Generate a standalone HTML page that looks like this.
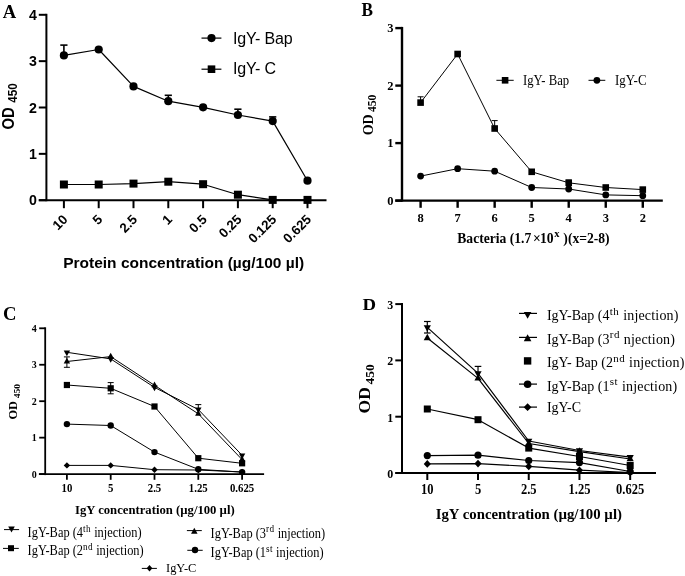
<!DOCTYPE html>
<html><head><meta charset="utf-8"><style>
html,body{margin:0;padding:0;background:#fff;}
body{width:685px;height:576px;overflow:hidden;font-family:"Liberation Sans", sans-serif;}
svg{display:block;filter:grayscale(1);}
</style></head><body>
<svg width="685" height="576" viewBox="0 0 685 576">
<rect width="685" height="576" fill="#fff"/>
<text transform="translate(2.80,17.70) scale(1,0.99)" font-family='"Liberation Serif", serif' font-size="18.6" font-weight="bold" text-anchor="start" >A</text>
<line x1="46.40" y1="13.80" x2="46.40" y2="201.20" stroke="#000" stroke-width="2"/>
<line x1="38.80" y1="200.20" x2="46.40" y2="200.20" stroke="#000" stroke-width="2"/>
<text transform="translate(36.90,205.40) scale(1,1.03)" font-family='"Liberation Sans", sans-serif' font-size="14.2" font-weight="bold" text-anchor="end" >0</text>
<line x1="38.80" y1="153.85" x2="46.40" y2="153.85" stroke="#000" stroke-width="2"/>
<text transform="translate(36.90,159.05) scale(1,1.03)" font-family='"Liberation Sans", sans-serif' font-size="14.2" font-weight="bold" text-anchor="end" >1</text>
<line x1="38.80" y1="107.50" x2="46.40" y2="107.50" stroke="#000" stroke-width="2"/>
<text transform="translate(36.90,112.70) scale(1,1.03)" font-family='"Liberation Sans", sans-serif' font-size="14.2" font-weight="bold" text-anchor="end" >2</text>
<line x1="38.80" y1="61.15" x2="46.40" y2="61.15" stroke="#000" stroke-width="2"/>
<text transform="translate(36.90,66.35) scale(1,1.03)" font-family='"Liberation Sans", sans-serif' font-size="14.2" font-weight="bold" text-anchor="end" >3</text>
<line x1="38.80" y1="14.80" x2="46.40" y2="14.80" stroke="#000" stroke-width="2"/>
<text transform="translate(36.90,20.00) scale(1,1.03)" font-family='"Liberation Sans", sans-serif' font-size="14.2" font-weight="bold" text-anchor="end" >4</text>
<line x1="38.80" y1="200.20" x2="326.50" y2="200.20" stroke="#000" stroke-width="2"/>
<line x1="63.90" y1="200.20" x2="63.90" y2="208.20" stroke="#000" stroke-width="2"/>
<text x="0.00" y="0.00" font-family='"Liberation Sans", sans-serif' font-size="13.3" font-weight="bold" text-anchor="end" transform="translate(68.50,220.30) rotate(-45)">10</text>
<line x1="98.70" y1="200.20" x2="98.70" y2="208.20" stroke="#000" stroke-width="2"/>
<text x="0.00" y="0.00" font-family='"Liberation Sans", sans-serif' font-size="13.3" font-weight="bold" text-anchor="end" transform="translate(103.30,220.30) rotate(-45)">5</text>
<line x1="133.50" y1="200.20" x2="133.50" y2="208.20" stroke="#000" stroke-width="2"/>
<text x="0.00" y="0.00" font-family='"Liberation Sans", sans-serif' font-size="13.3" font-weight="bold" text-anchor="end" transform="translate(138.10,220.30) rotate(-45)">2.5</text>
<line x1="168.30" y1="200.20" x2="168.30" y2="208.20" stroke="#000" stroke-width="2"/>
<text x="0.00" y="0.00" font-family='"Liberation Sans", sans-serif' font-size="13.3" font-weight="bold" text-anchor="end" transform="translate(172.90,220.30) rotate(-45)">1</text>
<line x1="203.10" y1="200.20" x2="203.10" y2="208.20" stroke="#000" stroke-width="2"/>
<text x="0.00" y="0.00" font-family='"Liberation Sans", sans-serif' font-size="13.3" font-weight="bold" text-anchor="end" transform="translate(207.70,220.30) rotate(-45)">0.5</text>
<line x1="237.90" y1="200.20" x2="237.90" y2="208.20" stroke="#000" stroke-width="2"/>
<text x="0.00" y="0.00" font-family='"Liberation Sans", sans-serif' font-size="13.3" font-weight="bold" text-anchor="end" transform="translate(242.50,220.30) rotate(-45)">0.25</text>
<line x1="272.70" y1="200.20" x2="272.70" y2="208.20" stroke="#000" stroke-width="2"/>
<text x="0.00" y="0.00" font-family='"Liberation Sans", sans-serif' font-size="13.3" font-weight="bold" text-anchor="end" transform="translate(277.30,220.30) rotate(-45)">0.125</text>
<line x1="307.50" y1="200.20" x2="307.50" y2="208.20" stroke="#000" stroke-width="2"/>
<text x="0.00" y="0.00" font-family='"Liberation Sans", sans-serif' font-size="13.3" font-weight="bold" text-anchor="end" transform="translate(312.10,220.30) rotate(-45)">0.625</text>
<text x="63.20" y="267.70" font-family='"Liberation Sans", sans-serif' font-size="15.5" font-weight="bold" text-anchor="start" >Protein concentration (µg/100 µl)</text>
<text transform="translate(13.5,129.6) rotate(-90) scale(0.93,1)" font-family='"Liberation Sans", sans-serif' font-weight="bold" font-size="16">OD<tspan font-size="12.6" dx="5.0" dy="3.6">450</tspan></text>
<line x1="63.90" y1="55.40" x2="63.90" y2="45.10" stroke="#000" stroke-width="1.6"/>
<line x1="60.30" y1="45.10" x2="67.50" y2="45.10" stroke="#000" stroke-width="1.6"/>
<line x1="168.30" y1="101.20" x2="168.30" y2="95.30" stroke="#000" stroke-width="1.6"/>
<line x1="164.70" y1="95.30" x2="171.90" y2="95.30" stroke="#000" stroke-width="1.6"/>
<line x1="237.90" y1="115.00" x2="237.90" y2="109.20" stroke="#000" stroke-width="1.6"/>
<line x1="234.30" y1="109.20" x2="241.50" y2="109.20" stroke="#000" stroke-width="1.6"/>
<line x1="272.70" y1="121.10" x2="272.70" y2="116.90" stroke="#000" stroke-width="1.6"/>
<line x1="269.10" y1="116.90" x2="276.30" y2="116.90" stroke="#000" stroke-width="1.6"/>
<polyline fill="none" stroke="#000" stroke-width="1.2" stroke-linejoin="round" points="63.90,55.40 98.70,49.50 133.50,86.40 168.30,101.20 203.10,107.30 237.90,115.00 272.70,121.10 307.50,180.70"/>
<polyline fill="none" stroke="#000" stroke-width="1.2" stroke-linejoin="round" points="63.90,184.50 98.70,184.50 133.50,183.60 168.30,181.70 203.10,184.20 237.90,194.70 272.70,199.90 307.50,199.90"/>
<circle cx="63.90" cy="55.40" r="4.10"/>
<circle cx="98.70" cy="49.50" r="4.10"/>
<circle cx="133.50" cy="86.40" r="4.10"/>
<circle cx="168.30" cy="101.20" r="4.10"/>
<circle cx="203.10" cy="107.30" r="4.10"/>
<circle cx="237.90" cy="115.00" r="4.10"/>
<circle cx="272.70" cy="121.10" r="4.10"/>
<circle cx="307.50" cy="180.70" r="4.10"/>
<rect x="59.90" y="180.50" width="8.00" height="8.00"/>
<rect x="94.70" y="180.50" width="8.00" height="8.00"/>
<rect x="129.50" y="179.60" width="8.00" height="8.00"/>
<rect x="164.30" y="177.70" width="8.00" height="8.00"/>
<rect x="199.10" y="180.20" width="8.00" height="8.00"/>
<rect x="233.90" y="190.70" width="8.00" height="8.00"/>
<rect x="268.70" y="195.90" width="8.00" height="8.00"/>
<rect x="303.50" y="195.90" width="8.00" height="8.00"/>
<line x1="201.50" y1="38.10" x2="221.40" y2="38.10" stroke="#000" stroke-width="1.2"/>
<circle cx="211.50" cy="38.10" r="4.10"/>
<text x="233.00" y="43.60" font-family='"Liberation Sans", sans-serif' font-size="16" font-weight="normal" text-anchor="start" letter-spacing="-0.15">IgY- Bap</text>
<line x1="201.50" y1="69.20" x2="221.40" y2="69.20" stroke="#000" stroke-width="1.2"/>
<rect x="207.70" y="65.40" width="7.60" height="7.60"/>
<text x="233.00" y="73.90" font-family='"Liberation Sans", sans-serif' font-size="16" font-weight="normal" text-anchor="start" letter-spacing="-0.15">IgY- C</text>
<text transform="translate(361.40,15.80) scale(1,1.07)" font-family='"Liberation Serif", serif' font-size="17.2" font-weight="bold" text-anchor="start" >B</text>
<line x1="402.00" y1="26.90" x2="402.00" y2="201.60" stroke="#000" stroke-width="2.4"/>
<line x1="395.30" y1="200.60" x2="402.00" y2="200.60" stroke="#000" stroke-width="2.4"/>
<text x="393.60" y="204.80" font-family='"Liberation Serif", serif' font-size="12.5" font-weight="bold" text-anchor="end" >0</text>
<line x1="395.30" y1="143.10" x2="402.00" y2="143.10" stroke="#000" stroke-width="2.4"/>
<text x="393.60" y="147.30" font-family='"Liberation Serif", serif' font-size="12.5" font-weight="bold" text-anchor="end" >1</text>
<line x1="395.30" y1="85.60" x2="402.00" y2="85.60" stroke="#000" stroke-width="2.4"/>
<text x="393.60" y="89.80" font-family='"Liberation Serif", serif' font-size="12.5" font-weight="bold" text-anchor="end" >2</text>
<line x1="395.30" y1="28.10" x2="402.00" y2="28.10" stroke="#000" stroke-width="2.4"/>
<text x="393.60" y="32.30" font-family='"Liberation Serif", serif' font-size="12.5" font-weight="bold" text-anchor="end" >3</text>
<line x1="395.30" y1="200.60" x2="662.80" y2="200.60" stroke="#000" stroke-width="2.4"/>
<line x1="420.60" y1="200.60" x2="420.60" y2="207.80" stroke="#000" stroke-width="2.4"/>
<text x="420.60" y="221.80" font-family='"Liberation Serif", serif' font-size="12.5" font-weight="bold" text-anchor="middle" >8</text>
<line x1="457.63" y1="200.60" x2="457.63" y2="207.80" stroke="#000" stroke-width="2.4"/>
<text x="457.63" y="221.80" font-family='"Liberation Serif", serif' font-size="12.5" font-weight="bold" text-anchor="middle" >7</text>
<line x1="494.66" y1="200.60" x2="494.66" y2="207.80" stroke="#000" stroke-width="2.4"/>
<text x="494.66" y="221.80" font-family='"Liberation Serif", serif' font-size="12.5" font-weight="bold" text-anchor="middle" >6</text>
<line x1="531.69" y1="200.60" x2="531.69" y2="207.80" stroke="#000" stroke-width="2.4"/>
<text x="531.69" y="221.80" font-family='"Liberation Serif", serif' font-size="12.5" font-weight="bold" text-anchor="middle" >5</text>
<line x1="568.72" y1="200.60" x2="568.72" y2="207.80" stroke="#000" stroke-width="2.4"/>
<text x="568.72" y="221.80" font-family='"Liberation Serif", serif' font-size="12.5" font-weight="bold" text-anchor="middle" >4</text>
<line x1="605.75" y1="200.60" x2="605.75" y2="207.80" stroke="#000" stroke-width="2.4"/>
<text x="605.75" y="221.80" font-family='"Liberation Serif", serif' font-size="12.5" font-weight="bold" text-anchor="middle" >3</text>
<line x1="642.78" y1="200.60" x2="642.78" y2="207.80" stroke="#000" stroke-width="2.4"/>
<text x="642.78" y="221.80" font-family='"Liberation Serif", serif' font-size="12.5" font-weight="bold" text-anchor="middle" >2</text>
<text x="457.3" y="242.8" font-family='"Liberation Serif", serif' font-weight="bold" font-size="13.6">Bacteria (1.7<tspan dx="1.6">×</tspan><tspan dx="-0.6">10</tspan><tspan font-size="10.5" dx="0.5" dy="-5.8">x</tspan><tspan dy="5.8" dx="0.6"> )(x=2-8)</tspan></text>
<text transform="translate(373.4,135.3) rotate(-90) scale(1.0,1)" font-family='"Liberation Serif", serif' font-weight="bold" font-size="14">OD<tspan font-size="11.7" dx="2.2" dy="2.6">450</tspan></text>
<line x1="420.60" y1="102.60" x2="420.60" y2="96.80" stroke="#000" stroke-width="1"/>
<line x1="417.60" y1="96.80" x2="423.60" y2="96.80" stroke="#000" stroke-width="1"/>
<line x1="494.66" y1="128.50" x2="494.66" y2="120.60" stroke="#000" stroke-width="1"/>
<line x1="491.66" y1="120.60" x2="497.66" y2="120.60" stroke="#000" stroke-width="1"/>
<line x1="568.72" y1="182.80" x2="568.72" y2="180.00" stroke="#000" stroke-width="1"/>
<line x1="565.72" y1="180.00" x2="571.72" y2="180.00" stroke="#000" stroke-width="1"/>
<polyline fill="none" stroke="#000" stroke-width="1" stroke-linejoin="round" points="420.60,102.60 457.63,54.00 494.66,128.50 531.69,171.80 568.72,182.80 605.75,187.50 642.78,189.60"/>
<polyline fill="none" stroke="#000" stroke-width="1" stroke-linejoin="round" points="420.60,176.10 457.63,168.70 494.66,171.20 531.69,187.50 568.72,189.00 605.75,194.90 642.78,195.70"/>
<rect x="417.30" y="99.30" width="6.60" height="6.60"/>
<rect x="454.33" y="50.70" width="6.60" height="6.60"/>
<rect x="491.36" y="125.20" width="6.60" height="6.60"/>
<rect x="528.39" y="168.50" width="6.60" height="6.60"/>
<rect x="565.42" y="179.50" width="6.60" height="6.60"/>
<rect x="602.45" y="184.20" width="6.60" height="6.60"/>
<rect x="639.48" y="186.30" width="6.60" height="6.60"/>
<circle cx="420.60" cy="176.10" r="3.40"/>
<circle cx="457.63" cy="168.70" r="3.40"/>
<circle cx="494.66" cy="171.20" r="3.40"/>
<circle cx="531.69" cy="187.50" r="3.40"/>
<circle cx="568.72" cy="189.00" r="3.40"/>
<circle cx="605.75" cy="194.90" r="3.40"/>
<circle cx="642.78" cy="195.70" r="3.40"/>
<line x1="496.40" y1="80.30" x2="513.70" y2="80.30" stroke="#000" stroke-width="1"/>
<rect x="501.80" y="77.00" width="6.60" height="6.60"/>
<text transform="translate(523.00,84.50) scale(1,1.15)" font-family='"Liberation Serif", serif' font-size="12.7" font-weight="normal" text-anchor="start" >IgY- Bap</text>
<line x1="588.50" y1="80.30" x2="605.30" y2="80.30" stroke="#000" stroke-width="1"/>
<circle cx="596.90" cy="80.30" r="3.40"/>
<text transform="translate(615.00,84.50) scale(1,1.15)" font-family='"Liberation Serif", serif' font-size="12.9" font-weight="normal" text-anchor="start" >IgY-C</text>
<text transform="translate(3.00,320.10) scale(1,0.99)" font-family='"Liberation Serif", serif' font-size="18.7" font-weight="bold" text-anchor="start" >C</text>
<line x1="45.20" y1="327.30" x2="45.20" y2="475.10" stroke="#000" stroke-width="1.8"/>
<line x1="39.20" y1="474.10" x2="45.20" y2="474.10" stroke="#000" stroke-width="1.8"/>
<text x="36.80" y="477.70" font-family='"Liberation Serif", serif' font-size="10" font-weight="bold" text-anchor="end" >0</text>
<line x1="39.20" y1="437.65" x2="45.20" y2="437.65" stroke="#000" stroke-width="1.8"/>
<text x="36.80" y="441.25" font-family='"Liberation Serif", serif' font-size="10" font-weight="bold" text-anchor="end" >1</text>
<line x1="39.20" y1="401.20" x2="45.20" y2="401.20" stroke="#000" stroke-width="1.8"/>
<text x="36.80" y="404.80" font-family='"Liberation Serif", serif' font-size="10" font-weight="bold" text-anchor="end" >2</text>
<line x1="39.20" y1="364.75" x2="45.20" y2="364.75" stroke="#000" stroke-width="1.8"/>
<text x="36.80" y="368.35" font-family='"Liberation Serif", serif' font-size="10" font-weight="bold" text-anchor="end" >3</text>
<line x1="39.20" y1="328.30" x2="45.20" y2="328.30" stroke="#000" stroke-width="1.8"/>
<text x="36.80" y="331.90" font-family='"Liberation Serif", serif' font-size="10" font-weight="bold" text-anchor="end" >4</text>
<line x1="38.90" y1="474.10" x2="264.10" y2="474.10" stroke="#000" stroke-width="1.8"/>
<line x1="66.90" y1="474.10" x2="66.90" y2="479.80" stroke="#000" stroke-width="1.8"/>
<text transform="translate(66.90,491.90) scale(1,1.18)" font-family='"Liberation Serif", serif' font-size="10.8" font-weight="bold" text-anchor="middle" >10</text>
<line x1="110.70" y1="474.10" x2="110.70" y2="479.80" stroke="#000" stroke-width="1.8"/>
<text transform="translate(110.70,491.90) scale(1,1.18)" font-family='"Liberation Serif", serif' font-size="10.8" font-weight="bold" text-anchor="middle" >5</text>
<line x1="154.50" y1="474.10" x2="154.50" y2="479.80" stroke="#000" stroke-width="1.8"/>
<text transform="translate(154.50,491.90) scale(1,1.18)" font-family='"Liberation Serif", serif' font-size="10.8" font-weight="bold" text-anchor="middle" >2.5</text>
<line x1="198.30" y1="474.10" x2="198.30" y2="479.80" stroke="#000" stroke-width="1.8"/>
<text transform="translate(198.30,491.90) scale(1,1.18)" font-family='"Liberation Serif", serif' font-size="10.8" font-weight="bold" text-anchor="middle" >1.25</text>
<line x1="242.10" y1="474.10" x2="242.10" y2="479.80" stroke="#000" stroke-width="1.8"/>
<text transform="translate(242.10,491.90) scale(1,1.18)" font-family='"Liberation Serif", serif' font-size="10.8" font-weight="bold" text-anchor="middle" >0.625</text>
<text x="75.00" y="513.50" font-family='"Liberation Serif", serif' font-size="12.7" font-weight="bold" text-anchor="start" >IgY concentration (µg/100 µl)</text>
<text transform="translate(17.3,419.6) rotate(-90) scale(1.08,1)" font-family='"Liberation Serif", serif' font-weight="bold" font-size="11.5">OD<tspan font-size="8.8" dx="2.6" dy="2.5">450</tspan></text>
<line x1="66.90" y1="361.50" x2="66.90" y2="356.90" stroke="#000" stroke-width="1"/>
<line x1="63.90" y1="356.90" x2="69.90" y2="356.90" stroke="#000" stroke-width="1"/>
<line x1="66.90" y1="361.50" x2="66.90" y2="367.30" stroke="#000" stroke-width="1"/>
<line x1="63.90" y1="367.30" x2="69.90" y2="367.30" stroke="#000" stroke-width="1"/>
<line x1="110.70" y1="388.30" x2="110.70" y2="382.60" stroke="#000" stroke-width="1"/>
<line x1="107.70" y1="382.60" x2="113.70" y2="382.60" stroke="#000" stroke-width="1"/>
<line x1="110.70" y1="388.30" x2="110.70" y2="393.80" stroke="#000" stroke-width="1"/>
<line x1="107.70" y1="393.80" x2="113.70" y2="393.80" stroke="#000" stroke-width="1"/>
<line x1="198.30" y1="409.50" x2="198.30" y2="404.60" stroke="#000" stroke-width="1"/>
<line x1="195.30" y1="404.60" x2="201.30" y2="404.60" stroke="#000" stroke-width="1"/>
<polyline fill="none" stroke="#000" stroke-width="1" stroke-linejoin="round" points="66.90,352.30 110.70,358.90 154.50,387.40 198.30,409.50 242.10,455.30"/>
<polyline fill="none" stroke="#000" stroke-width="1" stroke-linejoin="round" points="66.90,361.50 110.70,356.60 154.50,385.30 198.30,413.80 242.10,459.60"/>
<polyline fill="none" stroke="#000" stroke-width="1" stroke-linejoin="round" points="66.90,385.00 110.70,388.30 154.50,406.50 198.30,458.20 242.10,463.30"/>
<polyline fill="none" stroke="#000" stroke-width="1" stroke-linejoin="round" points="66.90,424.10 110.70,425.50 154.50,452.10 198.30,469.30 242.10,472.10"/>
<polyline fill="none" stroke="#000" stroke-width="1" stroke-linejoin="round" points="66.90,465.40 110.70,465.40 154.50,469.70 198.30,470.00 242.10,472.00"/>
<polygon points="66.90,462.20 70.10,465.40 66.90,468.60 63.70,465.40"/>
<polygon points="110.70,462.20 113.90,465.40 110.70,468.60 107.50,465.40"/>
<polygon points="154.50,466.50 157.70,469.70 154.50,472.90 151.30,469.70"/>
<polygon points="198.30,466.80 201.50,470.00 198.30,473.20 195.10,470.00"/>
<polygon points="242.10,468.80 245.30,472.00 242.10,475.20 238.90,472.00"/>
<circle cx="66.90" cy="424.10" r="3.20"/>
<circle cx="110.70" cy="425.50" r="3.20"/>
<circle cx="154.50" cy="452.10" r="3.20"/>
<circle cx="198.30" cy="469.30" r="3.20"/>
<circle cx="242.10" cy="472.10" r="3.20"/>
<rect x="63.80" y="381.90" width="6.20" height="6.20"/>
<rect x="107.60" y="385.20" width="6.20" height="6.20"/>
<rect x="151.40" y="403.40" width="6.20" height="6.20"/>
<rect x="195.20" y="455.10" width="6.20" height="6.20"/>
<rect x="239.00" y="460.20" width="6.20" height="6.20"/>
<polygon points="63.70,363.42 70.10,363.42 66.90,357.66"/>
<polygon points="107.50,358.52 113.90,358.52 110.70,352.76"/>
<polygon points="151.30,387.22 157.70,387.22 154.50,381.46"/>
<polygon points="195.10,415.72 201.50,415.72 198.30,409.96"/>
<polygon points="238.90,461.52 245.30,461.52 242.10,455.76"/>
<polygon points="63.70,350.38 70.10,350.38 66.90,356.14"/>
<polygon points="107.50,356.98 113.90,356.98 110.70,362.74"/>
<polygon points="151.30,385.48 157.70,385.48 154.50,391.24"/>
<polygon points="195.10,407.58 201.50,407.58 198.30,413.34"/>
<polygon points="238.90,453.38 245.30,453.38 242.10,459.14"/>
<line x1="4.00" y1="529.60" x2="19.10" y2="529.60" stroke="#000" stroke-width="1"/>
<polygon points="8.20,526.62 14.80,526.62 11.50,532.56"/>
<text transform="translate(27.60,537.20) scale(1,1.13)" font-family='"Liberation Serif", serif' font-size="12.4" font-weight="normal" text-anchor="start" >IgY-Bap (4<tspan font-size="9.2" dx="0.1" dy="-4.6" letter-spacing="0.4">th</tspan><tspan dy="4.6" dx="0"> injection)</tspan></text>
<line x1="3.00" y1="548.40" x2="18.80" y2="548.40" stroke="#000" stroke-width="1"/>
<rect x="8.00" y="545.20" width="6.00" height="6.00"/>
<text transform="translate(27.60,555.20) scale(1,1.13)" font-family='"Liberation Serif", serif' font-size="12.4" font-weight="normal" text-anchor="start" >IgY-Bap (2<tspan font-size="9.2" dx="0.1" dy="-4.6" letter-spacing="0.4">nd</tspan><tspan dy="4.6" dx="0"> injection)</tspan></text>
<line x1="186.90" y1="530.60" x2="201.80" y2="530.60" stroke="#000" stroke-width="1"/>
<polygon points="191.05,533.65 197.55,533.65 194.30,527.80"/>
<text transform="translate(210.60,537.60) scale(1,1.13)" font-family='"Liberation Serif", serif' font-size="12.4" font-weight="normal" text-anchor="start" >IgY-Bap (3<tspan font-size="9.2" dx="0.1" dy="-4.6" letter-spacing="0.4">rd</tspan><tspan dy="4.6" dx="0"> injection)</tspan></text>
<line x1="187.30" y1="550.30" x2="202.70" y2="550.30" stroke="#000" stroke-width="1"/>
<circle cx="195.00" cy="550.00" r="3.20"/>
<text transform="translate(210.60,557.10) scale(1,1.13)" font-family='"Liberation Serif", serif' font-size="12.4" font-weight="normal" text-anchor="start" >IgY-Bap (1<tspan font-size="9.2" dx="0.1" dy="-4.6" letter-spacing="0.4">st</tspan><tspan dy="4.6" dx="0"> injection)</tspan></text>
<line x1="141.80" y1="568.40" x2="156.90" y2="568.40" stroke="#000" stroke-width="1"/>
<polygon points="149.50,565.00 152.37,568.30 149.50,571.60 146.63,568.30"/>
<text transform="translate(166.00,571.90) scale(1,1.05)" font-family='"Liberation Serif", serif' font-size="12.4" font-weight="normal" text-anchor="start" >IgY-C</text>
<text transform="translate(362.40,309.60) scale(1,0.94)" font-family='"Liberation Serif", serif' font-size="18.8" font-weight="bold" text-anchor="start" >D</text>
<line x1="402.00" y1="303.10" x2="402.00" y2="474.00" stroke="#000" stroke-width="2"/>
<line x1="395.30" y1="473.00" x2="402.00" y2="473.00" stroke="#000" stroke-width="2"/>
<text transform="translate(393.30,477.80) scale(1,1.12)" font-family='"Liberation Serif", serif' font-size="12" font-weight="bold" text-anchor="end" >0</text>
<line x1="395.30" y1="416.70" x2="402.00" y2="416.70" stroke="#000" stroke-width="2"/>
<text transform="translate(393.30,421.50) scale(1,1.12)" font-family='"Liberation Serif", serif' font-size="12" font-weight="bold" text-anchor="end" >1</text>
<line x1="395.30" y1="360.40" x2="402.00" y2="360.40" stroke="#000" stroke-width="2"/>
<text transform="translate(393.30,365.20) scale(1,1.12)" font-family='"Liberation Serif", serif' font-size="12" font-weight="bold" text-anchor="end" >2</text>
<line x1="395.30" y1="304.10" x2="402.00" y2="304.10" stroke="#000" stroke-width="2"/>
<text transform="translate(393.30,308.90) scale(1,1.12)" font-family='"Liberation Serif", serif' font-size="12" font-weight="bold" text-anchor="end" >3</text>
<line x1="395.40" y1="473.00" x2="656.00" y2="473.00" stroke="#000" stroke-width="2"/>
<line x1="427.30" y1="473.00" x2="427.30" y2="480.00" stroke="#000" stroke-width="2"/>
<text transform="translate(427.30,494.00) scale(1,1.15)" font-family='"Liberation Serif", serif' font-size="12.5" font-weight="bold" text-anchor="middle" >10</text>
<line x1="478.02" y1="473.00" x2="478.02" y2="480.00" stroke="#000" stroke-width="2"/>
<text transform="translate(478.02,494.00) scale(1,1.15)" font-family='"Liberation Serif", serif' font-size="12.5" font-weight="bold" text-anchor="middle" >5</text>
<line x1="528.74" y1="473.00" x2="528.74" y2="480.00" stroke="#000" stroke-width="2"/>
<text transform="translate(528.74,494.00) scale(1,1.15)" font-family='"Liberation Serif", serif' font-size="12.5" font-weight="bold" text-anchor="middle" >2.5</text>
<line x1="579.46" y1="473.00" x2="579.46" y2="480.00" stroke="#000" stroke-width="2"/>
<text transform="translate(579.46,494.00) scale(1,1.15)" font-family='"Liberation Serif", serif' font-size="12.5" font-weight="bold" text-anchor="middle" >1.25</text>
<line x1="630.18" y1="473.00" x2="630.18" y2="480.00" stroke="#000" stroke-width="2"/>
<text transform="translate(630.18,494.00) scale(1,1.15)" font-family='"Liberation Serif", serif' font-size="12.5" font-weight="bold" text-anchor="middle" >0.625</text>
<text x="435.70" y="518.50" font-family='"Liberation Serif", serif' font-size="14.8" font-weight="bold" text-anchor="start" >IgY concentration (µg/100 µl)</text>
<text transform="translate(370.2,413.4) rotate(-90) scale(1.1,1)" font-family='"Liberation Serif", serif' font-weight="bold" font-size="16">OD<tspan font-size="12.2" dx="2.4" dy="4.0">450</tspan></text>
<line x1="427.30" y1="327.40" x2="427.30" y2="321.50" stroke="#000" stroke-width="1.2"/>
<line x1="424.00" y1="321.50" x2="430.60" y2="321.50" stroke="#000" stroke-width="1.2"/>
<line x1="427.30" y1="327.40" x2="427.30" y2="333.00" stroke="#000" stroke-width="1.2"/>
<line x1="424.00" y1="333.00" x2="430.60" y2="333.00" stroke="#000" stroke-width="1.2"/>
<line x1="478.02" y1="373.40" x2="478.02" y2="366.40" stroke="#000" stroke-width="1.2"/>
<line x1="474.72" y1="366.40" x2="481.32" y2="366.40" stroke="#000" stroke-width="1.2"/>
<polyline fill="none" stroke="#000" stroke-width="1.2" stroke-linejoin="round" points="427.30,327.40 478.02,373.40 528.74,441.00 579.46,450.50 630.18,457.10"/>
<polyline fill="none" stroke="#000" stroke-width="1.2" stroke-linejoin="round" points="427.30,338.00 478.02,378.40 528.74,443.50 579.46,451.60 630.18,459.00"/>
<polyline fill="none" stroke="#000" stroke-width="1.2" stroke-linejoin="round" points="427.30,409.00 478.02,419.70 528.74,448.10 579.46,456.50 630.18,465.50"/>
<polyline fill="none" stroke="#000" stroke-width="1.2" stroke-linejoin="round" points="427.30,455.60 478.02,455.20 528.74,460.50 579.46,462.60 630.18,471.50"/>
<polyline fill="none" stroke="#000" stroke-width="1.2" stroke-linejoin="round" points="427.30,463.90 478.02,463.60 528.74,466.40 579.46,470.20 630.18,472.50"/>
<polygon points="427.30,460.10 430.87,463.90 427.30,467.70 423.73,463.90"/>
<polygon points="478.02,459.80 481.59,463.60 478.02,467.40 474.45,463.60"/>
<polygon points="528.74,462.60 532.31,466.40 528.74,470.20 525.17,466.40"/>
<polygon points="579.46,466.40 583.03,470.20 579.46,474.00 575.89,470.20"/>
<polygon points="630.18,468.70 633.75,472.50 630.18,476.30 626.61,472.50"/>
<circle cx="427.30" cy="455.60" r="3.60"/>
<circle cx="478.02" cy="455.20" r="3.60"/>
<circle cx="528.74" cy="460.50" r="3.60"/>
<circle cx="579.46" cy="462.60" r="3.60"/>
<circle cx="630.18" cy="471.50" r="3.60"/>
<rect x="423.80" y="405.50" width="7.00" height="7.00"/>
<rect x="474.52" y="416.20" width="7.00" height="7.00"/>
<rect x="525.24" y="444.60" width="7.00" height="7.00"/>
<rect x="575.96" y="453.00" width="7.00" height="7.00"/>
<rect x="626.68" y="462.00" width="7.00" height="7.00"/>
<polygon points="423.70,340.16 430.90,340.16 427.30,333.68"/>
<polygon points="474.42,380.56 481.62,380.56 478.02,374.08"/>
<polygon points="525.14,445.66 532.34,445.66 528.74,439.18"/>
<polygon points="575.86,453.76 583.06,453.76 579.46,447.28"/>
<polygon points="626.58,461.16 633.78,461.16 630.18,454.68"/>
<polygon points="423.70,325.24 430.90,325.24 427.30,331.72"/>
<polygon points="474.42,371.24 481.62,371.24 478.02,377.72"/>
<polygon points="525.14,438.84 532.34,438.84 528.74,445.32"/>
<polygon points="575.86,448.34 583.06,448.34 579.46,454.82"/>
<polygon points="626.58,454.94 633.78,454.94 630.18,461.42"/>
<line x1="519.00" y1="313.40" x2="537.00" y2="313.40" stroke="#000" stroke-width="1.2"/>
<polygon points="523.80,312.02 531.40,312.02 527.60,318.86"/>
<text x="546.90" y="320.20" font-family='"Liberation Serif", serif' font-size="14" font-weight="normal" text-anchor="start" >IgY-Bap (4<tspan font-size="11" dx="0.2" dy="-5.6" letter-spacing="0.6">th</tspan><tspan dy="5.6" dx="0" letter-spacing="0.18"> injection)</tspan></text>
<line x1="519.00" y1="337.40" x2="537.00" y2="337.40" stroke="#000" stroke-width="1.2"/>
<polygon points="523.80,341.18 531.40,341.18 527.60,334.34"/>
<text x="546.90" y="343.60" font-family='"Liberation Serif", serif' font-size="14" font-weight="normal" text-anchor="start" >IgY-Bap (3<tspan font-size="11" dx="0.2" dy="-5.6" letter-spacing="0.6">rd</tspan><tspan dy="5.6" dx="0" letter-spacing="0.18"> njection)</tspan></text>
<rect x="523.90" y="357.20" width="7.40" height="7.40"/>
<text x="546.90" y="367.40" font-family='"Liberation Serif", serif' font-size="14" font-weight="normal" text-anchor="start" >IgY- Bap (2<tspan font-size="11" dx="0.2" dy="-5.6" letter-spacing="0.6">nd</tspan><tspan dy="5.6" dx="0" letter-spacing="0.18"> injection)</tspan></text>
<line x1="519.00" y1="384.10" x2="537.00" y2="384.10" stroke="#000" stroke-width="1.2"/>
<circle cx="527.60" cy="384.20" r="3.80"/>
<text x="546.90" y="390.60" font-family='"Liberation Serif", serif' font-size="14" font-weight="normal" text-anchor="start" >IgY-Bap (1<tspan font-size="11" dx="0.2" dy="-5.6" letter-spacing="0.6">st</tspan><tspan dy="5.6" dx="0" letter-spacing="0.18"> injection)</tspan></text>
<line x1="519.00" y1="407.10" x2="537.00" y2="407.10" stroke="#000" stroke-width="1.2"/>
<polygon points="527.60,403.30 531.50,407.20 527.60,411.10 523.70,407.20"/>
<text x="546.90" y="411.50" font-family='"Liberation Serif", serif' font-size="14" font-weight="normal" text-anchor="start" >IgY-C</text>
</svg>
</body></html>
